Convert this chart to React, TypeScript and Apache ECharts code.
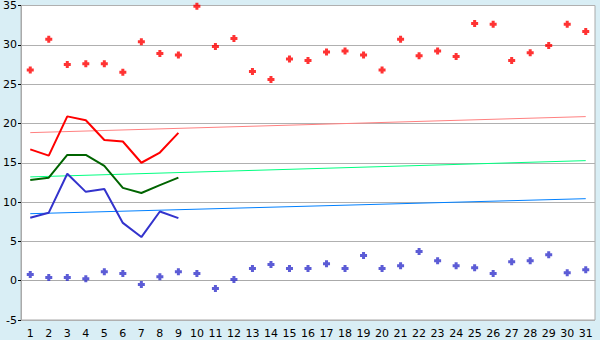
import React, { useEffect, useRef } from "react";
import * as echarts from "echarts";

const categories = Array.from({ length: 31 }, (_, i) => String(i + 1));

const redScatter = [26.8, 30.7, 27.5, 27.6, 27.6, 26.5, 30.4, 28.9, 28.7, 34.9, 29.8, 30.8, 26.6, 25.6, 28.2, 28.0, 29.1, 29.2, 28.7, 26.8, 30.7, 28.6, 29.2, 28.5, 32.7, 32.6, 28.0, 29.0, 29.9, 32.6, 31.7];
const blueScatter = [0.8, 0.4, 0.4, 0.25, 1.15, 0.9, -0.5, 0.5, 1.15, 0.9, -1.0, 0.15, 1.55, 2.05, 1.55, 1.55, 2.15, 1.55, 3.2, 1.55, 1.9, 3.7, 2.55, 1.9, 1.65, 0.9, 2.4, 2.55, 3.3, 1.0, 1.4];

const redLine = [16.7, 15.9, 20.9, 20.4, 17.9, 17.7, 15.0, 16.3, 18.8];
const greenLine = [12.8, 13.1, 16.0, 16.0, 14.6, 11.8, 11.15, 12.15, 13.1];
const blueLine = [8.0, 8.65, 13.6, 11.3, 11.65, 7.35, 5.55, 8.8, 7.95];

const redTrend = [18.83, 20.87];
const greenTrend = [13.2, 15.27];
const blueTrend = [8.52, 10.43];

const yMin = -5;
const yMax = 35;
const yInterval = 5;

const plusSymbol = "path://M2,0H5V2H7V5H5V7H2V5H0V2H2Z";

const trendData = (t: number[]) => [
  [categories[0], t[0]],
  [categories[categories.length - 1], t[1]],
];

export default function App() {
  const ref = useRef<HTMLDivElement>(null);
  useEffect(() => {
    document.body.style.margin = "0";
    const chart = echarts.init(ref.current!, null, { renderer: "svg" });
    const font = "DejaVu Sans";
    chart.setOption({
      animation: false,
      backgroundColor: "#d9eef5",
      grid: {
        left: 20,
        right: 5,
        top: 5,
        bottom: 20,
        show: true,
        backgroundColor: "#ffffff",
        borderColor: "#aaaaaa",
        borderWidth: 1,
      },
      xAxis: {
        type: "category",
        data: categories,
        boundaryGap: true,
        axisLine: { lineStyle: { color: "#aaaaaa" } },
        axisTick: { alignWithLabel: true, length: 5, lineStyle: { color: "#000" } },
        axisLabel: { color: "#000", fontFamily: font, fontSize: 11, margin: 8, interval: 0 },
        splitLine: { show: false },
      },
      yAxis: {
        type: "value",
        min: yMin,
        max: yMax,
        interval: yInterval,
        axisLine: { show: true, lineStyle: { color: "#aaaaaa" } },
        axisTick: { show: true, length: 3, lineStyle: { color: "#000" } },
        axisLabel: { color: "#000", fontFamily: font, fontSize: 11, margin: 4 },
        splitLine: { lineStyle: { color: "#b0b0b0", width: 1 } },
      },
      series: [
        {
          type: "line",
          data: trendData(redTrend),
          symbol: "none",
          lineStyle: { color: "#ff8080", width: 1 },
          z: 1,
        },
        {
          type: "line",
          data: trendData(greenTrend),
          symbol: "none",
          lineStyle: { color: "#00ff80", width: 1 },
          z: 1,
        },
        {
          type: "line",
          data: trendData(blueTrend),
          symbol: "none",
          lineStyle: { color: "#0080ff", width: 1 },
          z: 1,
        },
        {
          type: "line",
          data: redLine,
          symbol: "none",
          lineStyle: { color: "#ff0000", width: 2 },
          z: 2,
        },
        {
          type: "line",
          data: greenLine,
          symbol: "none",
          lineStyle: { color: "#006400", width: 2 },
          z: 2,
        },
        {
          type: "line",
          data: blueLine,
          symbol: "none",
          lineStyle: { color: "#3333cc", width: 2 },
          z: 2,
        },
        {
          type: "scatter",
          data: redScatter,
          symbol: plusSymbol,
          symbolSize: 7,
          itemStyle: { color: "#ff0000" },
          z: 3,
        },
        {
          type: "scatter",
          data: blueScatter,
          symbol: plusSymbol,
          symbolSize: 7,
          itemStyle: { color: "#3333cc" },
          z: 3,
        },
      ],
    });
    return () => chart.dispose();
  }, []);
  return (
    <div
      ref={ref}
      style={{ width: 600, height: 340, position: "absolute", left: 0, top: 0 }}
    />
  );
}
